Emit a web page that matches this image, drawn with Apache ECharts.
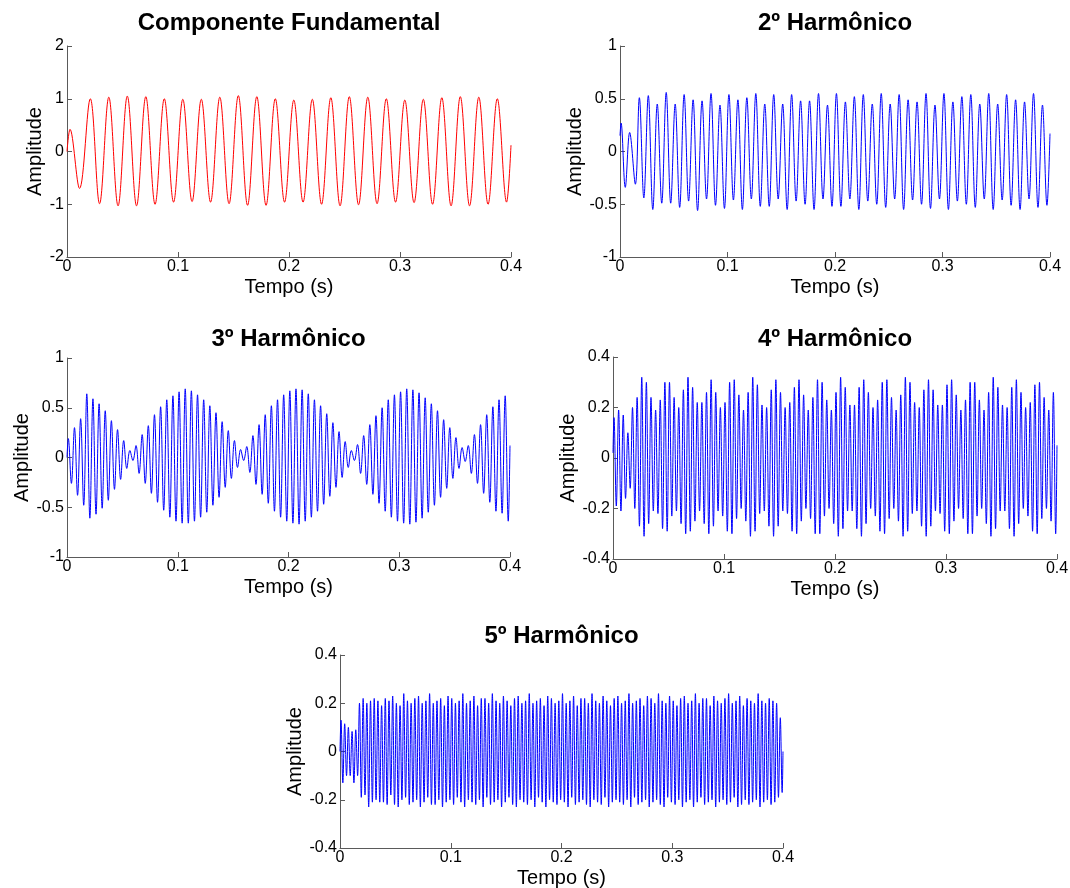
<!DOCTYPE html>
<html><head><meta charset="utf-8">
<script src="https://cdn.jsdelivr.net/npm/echarts@6/dist/echarts.min.js"></script>
<style>html,body{margin:0;padding:0;background:#fff}#c{width:1070px;height:888px}</style>
</head><body><div id="c"></div>
<script>
// ---------- texts ----------
const titles = ['Componente Fundamental', '2º Harmônico', '3º Harmônico', '4º Harmônico', '5º Harmônico'];
const xName = 'Tempo (s)';
const yName = 'Amplitude';
// ---------- axes [min, max, interval] ----------
const xRange = [0, 0.4, 0.1];
const yRanges = [[-2, 2, 1], [-1, 1, 0.5], [-1, 1, 0.5], [-0.4, 0.4, 0.2], [-0.4, 0.4, 0.2]];

// ---------- Componente Fundamental (60 Hz) ----------
const h1Freq = 60, h1FirstPeak = 0.021;
const h1HeadT = [0, 0.0027, 0.0113];
const h1HeadV = [0.0, 0.42, -0.70];
const h1Peaks = [1.0, 1.03, 1.05, 1.04, 1.0, 0.99, 0.99, 1.03, 1.06, 1.04, 1.0, 0.975, 0.99, 1.02, 1.04, 1.03, 1.0, 0.975, 0.99, 1.02, 1.04, 1.03, 1.0];
const h1Troughs = [-0.99, -1.03, -1.03, -1.0, -0.96, -0.95, -0.96, -0.99, -1.02, -1.02, -0.96, -0.96, -1.0, -1.03, -1.01, -0.99, -0.96, -0.97, -1.0, -1.03, -1.03, -1.0, -0.96];
const h1EndV = 0.12;

// ---------- 2º Harmônico (120 Hz) ----------
const h2Freq = 120, h2FirstPeak = 0.018;
const h2HeadT = [0, 0.001, 0.0049, 0.009, 0.0143];
const h2HeadV = [0.15, 0.27, -0.34, 0.18, -0.31];
const h2Peaks = [0.51, 0.53, 0.45, 0.56, 0.45, 0.54, 0.49, 0.48, 0.55, 0.44, 0.54, 0.49, 0.51, 0.55, 0.45, 0.54, 0.45, 0.54, 0.48,
  0.48, 0.55, 0.44, 0.55, 0.47, 0.52, 0.54, 0.45, 0.55, 0.45, 0.54, 0.49, 0.47, 0.55, 0.44, 0.55, 0.47, 0.52, 0.54, 0.45, 0.55, 0.45, 0.54, 0.49, 0.47, 0.55, 0.44];
const h2Troughs = [-0.44, -0.55, -0.49, -0.49, -0.53, -0.47, -0.56, -0.45, -0.51, -0.54, -0.46, -0.55, -0.45, -0.52, -0.52, -0.45, -0.55, -0.47,
  -0.50, -0.55, -0.45, -0.52, -0.52, -0.45, -0.55, -0.47, -0.50, -0.53, -0.45, -0.55, -0.46, -0.50, -0.54, -0.45, -0.55, -0.47, -0.50, -0.53, -0.45, -0.55, -0.46, -0.51, -0.55, -0.45, -0.53, -0.51];
const h2EndV = 0.17;

// ---------- 3º Harmônico (180 Hz) ----------
const h3Freq = 180, h3FirstPeak = 0.0012;
const h3HeadT = [0];
const h3HeadV = [0.0];
const h3Peaks = [0.19, 0.30, 0.39, 0.64, 0.59, 0.54, 0.47, 0.37, 0.28, 0.17, 0.07,
  0.12, 0.23, 0.32, 0.43, 0.51, 0.58, 0.62, 0.66, 0.69, 0.67, 0.63, 0.58, 0.52, 0.45, 0.36, 0.27, 0.17, 0.08,
  0.11, 0.22, 0.33, 0.43, 0.52, 0.58, 0.63, 0.67, 0.69, 0.68, 0.64, 0.58, 0.52, 0.44, 0.35, 0.26, 0.16, 0.07,
  0.13, 0.22, 0.33, 0.42, 0.50, 0.58, 0.63, 0.66, 0.69, 0.68, 0.65, 0.60, 0.54, 0.47, 0.38, 0.30, 0.20, 0.10,
  0.12, 0.23, 0.33, 0.43, 0.51, 0.58, 0.62];
const h3Troughs = [-0.26, -0.38, -0.48, -0.61, -0.57, -0.51, -0.43, -0.32, -0.22, -0.11, -0.03,
  -0.16, -0.26, -0.36, -0.45, -0.53, -0.60, -0.64, -0.66, -0.66, -0.64, -0.60, -0.55, -0.48, -0.40, -0.30, -0.21, -0.10, -0.03,
  -0.15, -0.27, -0.37, -0.46, -0.54, -0.60, -0.64, -0.66, -0.67, -0.64, -0.60, -0.54, -0.47, -0.39, -0.30, -0.20, -0.10, -0.03,
  -0.16, -0.27, -0.37, -0.46, -0.54, -0.60, -0.64, -0.66, -0.67, -0.65, -0.61, -0.55, -0.48, -0.40, -0.31, -0.21, -0.11, -0.04,
  -0.16, -0.26, -0.36, -0.45, -0.54, -0.56, -0.64];
const h3EndV = 0.12;

// ---------- 4º Harmônico (240 Hz) ----------
const h4Freq = 240, h4FirstPeak = 0.0009;
const h4HeadT = [0];
const h4HeadV = [0.02];
const h4Peaks = [0.16, 0.19, 0.17, 0.10, 0.20, 0.24, 0.32, 0.30, 0.24, 0.19, 0.23, 0.30, 0.30, 0.24, 0.20, 0.27, 0.32, 0.28, 0.22, 0.22,
  0.26, 0.31, 0.26, 0.20, 0.22, 0.30, 0.31, 0.25, 0.19, 0.26, 0.32, 0.29, 0.21, 0.20, 0.27, 0.31, 0.26, 0.20, 0.22, 0.28,
  0.31, 0.25, 0.19, 0.24, 0.31, 0.30, 0.23, 0.19, 0.26, 0.32, 0.28, 0.21, 0.21, 0.28, 0.31, 0.26, 0.20, 0.23, 0.30, 0.31,
  0.24, 0.19, 0.25, 0.32, 0.30, 0.22, 0.20, 0.27, 0.31, 0.27, 0.21, 0.21, 0.29, 0.31, 0.25, 0.19, 0.23, 0.30, 0.30, 0.23,
  0.19, 0.26, 0.32, 0.28, 0.21, 0.20, 0.28, 0.31, 0.26, 0.20, 0.22, 0.29, 0.30, 0.24, 0.19, 0.26];
const h4Troughs = [-0.19, -0.21, -0.16, -0.12, -0.20, -0.27, -0.31, -0.26, -0.21, -0.22, -0.28, -0.29, -0.23, -0.21, -0.26, -0.30, -0.29, -0.25, -0.21, -0.26,
  -0.30, -0.27, -0.21, -0.23, -0.29, -0.30, -0.24, -0.20, -0.25, -0.31, -0.29, -0.22, -0.21, -0.27, -0.31, -0.27, -0.21, -0.22, -0.29, -0.30,
  -0.25, -0.20, -0.24, -0.30, -0.30, -0.23, -0.20, -0.26, -0.31, -0.28, -0.21, -0.21, -0.28, -0.31, -0.26, -0.20, -0.23, -0.29, -0.30, -0.24,
  -0.20, -0.25, -0.31, -0.29, -0.22, -0.21, -0.27, -0.31, -0.27, -0.21, -0.22, -0.29, -0.30, -0.25, -0.20, -0.24, -0.30, -0.30, -0.23, -0.20,
  -0.26, -0.31, -0.28, -0.21, -0.21, -0.28, -0.31, -0.26, -0.20, -0.23, -0.29, -0.30, -0.24, -0.20, -0.25, -0.30];
const h4EndV = 0.05;

// ---------- 5º Harmônico (300 Hz) ----------
const h5Freq = 300, h5FirstPeak = 0.0009;
const h5HeadT = [0];
const h5HeadV = [0.0];
const h5Peaks = [0.13, 0.115, 0.10, 0.083, 0.09, 0.20, 0.22, 0.20, 0.21, 0.22, 0.21, 0.19, 0.22, 0.21, 0.23, 0.20, 0.19, 0.24, 0.21, 0.20,
  0.22, 0.23, 0.20, 0.21, 0.24, 0.20, 0.21, 0.22, 0.19, 0.23, 0.22, 0.20, 0.21, 0.24, 0.20, 0.21, 0.23, 0.19, 0.22, 0.22,
  0.20, 0.24, 0.21, 0.20, 0.23, 0.21, 0.19, 0.22, 0.23, 0.20, 0.21, 0.24, 0.20, 0.21, 0.22, 0.19, 0.23, 0.22, 0.20, 0.21,
  0.24, 0.20, 0.21, 0.23, 0.19, 0.22, 0.22, 0.20, 0.24, 0.21, 0.20, 0.23, 0.21, 0.19, 0.22, 0.23, 0.20, 0.21, 0.24, 0.20,
  0.21, 0.22, 0.19, 0.23, 0.22, 0.20, 0.24, 0.21, 0.20, 0.23, 0.21, 0.19, 0.22, 0.23, 0.20, 0.21, 0.24, 0.20, 0.22, 0.22,
  0.19, 0.23, 0.21, 0.20, 0.22, 0.24, 0.20, 0.21, 0.23, 0.19, 0.22, 0.21, 0.20, 0.24, 0.21, 0.20, 0.22, 0.21, 0.20, 0.14];
const h5Troughs = [-0.13, -0.10, -0.10, -0.13, -0.10, -0.19, -0.18, -0.23, -0.21, -0.20, -0.21, -0.21, -0.22, -0.18, -0.22, -0.23, -0.20, -0.19, -0.22, -0.21,
  -0.20, -0.23, -0.21, -0.19, -0.22, -0.22, -0.20, -0.23, -0.21, -0.20, -0.22, -0.19, -0.21, -0.23, -0.20, -0.21, -0.22, -0.20, -0.23, -0.19,
  -0.22, -0.21, -0.20, -0.23, -0.21, -0.19, -0.22, -0.23, -0.20, -0.21, -0.22, -0.20, -0.23, -0.19, -0.21, -0.23, -0.20, -0.21, -0.22, -0.20,
  -0.21, -0.23, -0.19, -0.22, -0.21, -0.20, -0.22, -0.23, -0.20, -0.21, -0.22, -0.19, -0.23, -0.21, -0.20, -0.21, -0.22, -0.20, -0.23, -0.19,
  -0.22, -0.21, -0.20, -0.23, -0.21, -0.20, -0.22, -0.23, -0.19, -0.21, -0.22, -0.20, -0.23, -0.21, -0.20, -0.23, -0.21, -0.19, -0.22, -0.21,
  -0.20, -0.23, -0.21, -0.20, -0.22, -0.21, -0.19, -0.23, -0.22, -0.20, -0.22, -0.21, -0.20, -0.23, -0.21, -0.20, -0.22, -0.21, -0.19, -0.17];
const h5EndV = 0.0;

// build [t, v] points: head samples, then alternating peak/trough at the carrier's half-period, then the last sample at 0.4 s
function build(headT, headV, firstPeak, freq, peaks, troughs, endV) {
  const T = 1 / freq;
  const pts = headT.map((t, i) => [t, headV[i]]);
  for (let k = 0; k < peaks.length; k++) {
    pts.push([firstPeak + k * T, peaks[k]]);
    if (k < troughs.length) pts.push([firstPeak + (k + 0.5) * T, troughs[k]]);
  }
  pts.push([xRange[1], endV]);
  return pts;
}
const seriesData = [
  build(h1HeadT, h1HeadV, h1FirstPeak, h1Freq, h1Peaks, h1Troughs, h1EndV),
  build(h2HeadT, h2HeadV, h2FirstPeak, h2Freq, h2Peaks, h2Troughs, h2EndV),
  build(h3HeadT, h3HeadV, h3FirstPeak, h3Freq, h3Peaks, h3Troughs, h3EndV),
  build(h4HeadT, h4HeadV, h4FirstPeak, h4Freq, h4Peaks, h4Troughs, h4EndV),
  build(h5HeadT, h5HeadV, h5FirstPeak, h5Freq, h5Peaks, h5Troughs, h5EndV)
];
const lineColors = ['#ff0000', '#0000ff', '#0000ff', '#0000ff', '#0000ff'];

// ---------- layout ----------
const gridBoxes = [
  { left: 67, top: 46, width: 444, height: 211 },
  { left: 620, top: 46, width: 430, height: 211 },
  { left: 67, top: 358, width: 443, height: 199 },
  { left: 613, top: 357, width: 444, height: 202 },
  { left: 340, top: 655, width: 443, height: 193 }
];
const titleTops = [11, 11, 327, 327, 624];
const yNameGaps = [21, 34, 34, 34, 34];
const FONT = '"Liberation Sans", Arial, sans-serif';
const axisColor = '#5a5a5a';

const option = {
  animation: false,
  backgroundColor: '#fff',
  title: titles.map((t, i) => ({
    text: t,
    left: gridBoxes[i].left + gridBoxes[i].width / 2,
    top: titleTops[i],
    textAlign: 'center',
    padding: 0,
    textStyle: { fontFamily: FONT, fontSize: 24, fontWeight: 'bold', color: '#000' }
  })),
  grid: gridBoxes.map(g => Object.assign({ containLabel: false, outerBoundsMode: 'none' }, g)),
  xAxis: gridBoxes.map((g, i) => ({
    type: 'value', gridIndex: i,
    min: xRange[0], max: xRange[1], interval: xRange[2],
    name: xName, nameLocation: 'middle', nameGap: 20,
    nameTextStyle: { fontFamily: FONT, fontSize: 20, color: '#000' },
    axisLine: { show: true, onZero: false, lineStyle: { color: axisColor, width: 1 } },
    axisTick: { show: true, inside: true, length: 5, lineStyle: { color: axisColor } },
    axisLabel: { fontFamily: FONT, fontSize: 16, color: '#000', margin: 2, showMinLabel: true, showMaxLabel: true },
    splitLine: { show: false }
  })),
  yAxis: gridBoxes.map((g, i) => ({
    type: 'value', gridIndex: i,
    min: yRanges[i][0], max: yRanges[i][1], interval: yRanges[i][2],
    name: yName, nameLocation: 'middle', nameGap: yNameGaps[i], nameRotate: 90,
    nameTextStyle: { fontFamily: FONT, fontSize: 20, color: '#000' },
    axisLine: { show: true, onZero: false, lineStyle: { color: axisColor, width: 1 } },
    axisTick: { show: true, inside: true, length: 5, lineStyle: { color: axisColor } },
    axisLabel: { fontFamily: FONT, fontSize: 16, color: '#000', margin: 3, showMinLabel: true, showMaxLabel: true },
    splitLine: { show: false }
  })),
  series: seriesData.map((d, i) => ({
    type: 'line', xAxisIndex: i, yAxisIndex: i,
    data: d, showSymbol: false, smooth: 0.37, clip: true,
    lineStyle: { color: lineColors[i], width: 1 },
    itemStyle: { color: lineColors[i] },
    emphasis: { disabled: true }
  }))
};
const chart = echarts.init(document.getElementById('c'), null, { renderer: 'canvas' });
chart.setOption(option);
</script>
</body></html>
